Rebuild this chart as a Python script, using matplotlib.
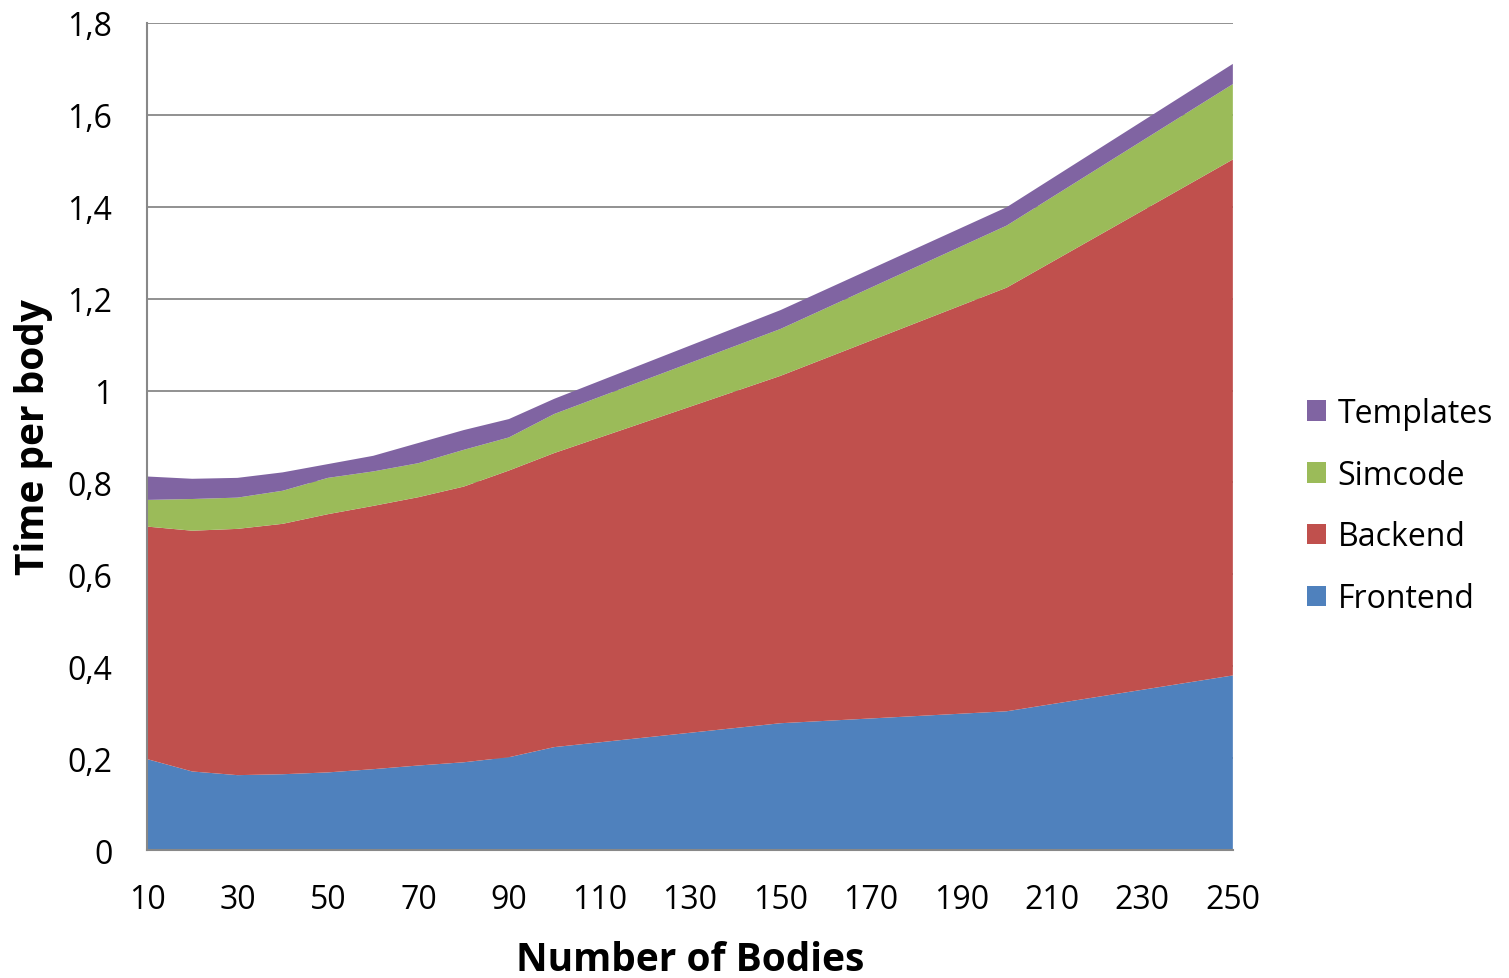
import matplotlib.pyplot as plt
from matplotlib.ticker import FuncFormatter

plt.rcParams['font.family'] = ['Open Sans', 'DejaVu Sans']

bodies = [10, 20, 30, 40, 50, 60, 70, 80, 90, 100, 150, 200, 250]
frontend = [0.198, 0.171, 0.163, 0.165, 0.169, 0.176, 0.184, 0.191, 0.202, 0.224, 0.276, 0.302, 0.380]
backend = [0.506, 0.524, 0.536, 0.545, 0.562, 0.573, 0.584, 0.600, 0.624, 0.640, 0.756, 0.922, 1.123]
simcode = [0.058, 0.069, 0.068, 0.072, 0.079, 0.075, 0.074, 0.080, 0.072, 0.085, 0.102, 0.135, 0.164]
templates = [0.051, 0.044, 0.043, 0.040, 0.030, 0.034, 0.044, 0.043, 0.040, 0.033, 0.041, 0.040, 0.044]

labels = ['Frontend', 'Backend', 'Simcode', 'Templates']
colors = ['#4F81BD', '#C0504D', '#9BBB59', '#8064A2']

fig = plt.figure(figsize=(15.09, 9.79), dpi=100)
ax = fig.add_axes([0.0974, 0.1307, 0.7196, 0.8448])

ax.stackplot(bodies, frontend, backend, simcode, templates,
             labels=labels, colors=colors, linewidth=0)

ax.set_xlim(10, 250)
ax.set_ylim(0, 1.8)
ax.set_xticks(range(10, 251, 20))
ax.set_yticks([i * 0.2 for i in range(10)])
ax.yaxis.set_major_formatter(FuncFormatter(
    lambda v, _: ('%.1f' % v).rstrip('0').rstrip('.').replace('.', ',')))
ax.tick_params(axis='both', length=0, labelsize=23)
ax.tick_params(axis='x', pad=24)
ax.tick_params(axis='y', pad=25)
ax.grid(axis='y', color='#888888', linewidth=1.3)
ax.set_axisbelow(True)

for side in ['top', 'right']:
    ax.spines[side].set_visible(False)
for side in ['left', 'bottom']:
    ax.spines[side].set_color('#888888')
    ax.spines[side].set_linewidth(1.5)

ax.set_xlabel('Number of Bodies', fontsize=28, fontweight='bold', labelpad=17)
ax.set_ylabel('Time per body', fontsize=28, fontweight='bold', labelpad=10)

handles, names = ax.get_legend_handles_labels()
ax.legend(handles[::-1], names[::-1], loc='center left',
          bbox_to_anchor=(1.068, 0.416), frameon=False, fontsize=23,
          handlelength=0.62, handleheight=0.62, handletextpad=0.35,
          labelspacing=0.9, borderaxespad=0, borderpad=0)

fig.savefig('out.png', dpi=100)
